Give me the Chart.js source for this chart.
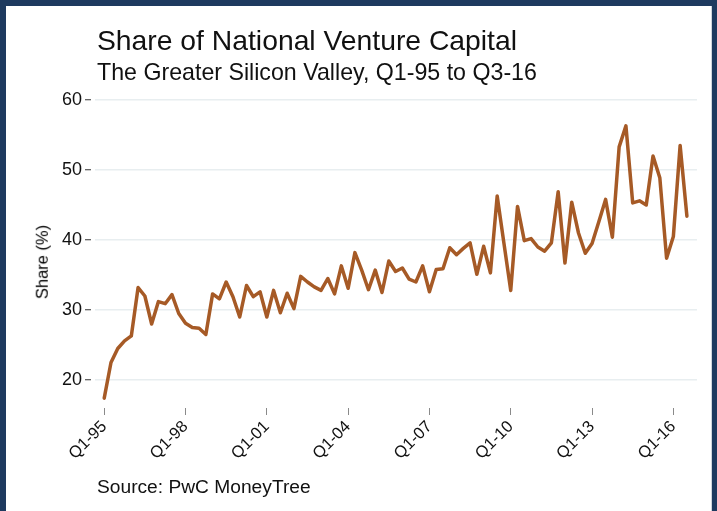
<!DOCTYPE html>
<html>
<head>
<meta charset="utf-8">
<title>Share of National Venture Capital</title>
<script src="https://cdn.jsdelivr.net/npm/chart.js@4.4.1/dist/chart.umd.min.js"></script>
<style>
  html, body { margin: 0; padding: 0; background: #fff; }
  body { width: 717px; height: 511px; position: relative; overflow: hidden;
         font-family: 'Liberation Sans', Arial, Helvetica, sans-serif; color: #111; }
  .frame { position: absolute; left: 0; top: 0; width: 717px; height: 530px; box-sizing: border-box;
           border-top: 6px solid #1e3a5f; border-left: 6px solid #1e3a5f; border-right: 5px solid #1e3a5f; }
  .frame-inner { position: absolute; right: 5px; top: 6px; width: 1px; height: 520px; background: #cfd6dc; }
  #chart { position: absolute; left: 0; top: 0; }
  .title { position: absolute; left: 97px; top: 26px; font-size: 28.3px; line-height: 1; white-space: nowrap; }
  .subtitle { position: absolute; left: 97px; top: 61px; font-size: 23.2px; line-height: 1; white-space: nowrap; }
  .source { position: absolute; left: 97px; top: 477px; font-size: 19.2px; line-height: 1; white-space: nowrap; }
  .ytitle { position: absolute; left: 42px; top: 262px; font-size: 16.5px; line-height: 1; white-space: nowrap;
            color: #000; transform: translate(-50%, -50%) rotate(-90deg); }
</style>
</head>
<body>
<div class="frame"></div>
<div class="frame-inner"></div>
<canvas id="chart" width="717" height="511"></canvas>
<div class="title">Share of National Venture Capital</div>
<div class="subtitle">The Greater Silicon Valley, Q1-95 to Q3-16</div>
<div class="ytitle">Share (%)</div>
<div class="source">Source: PwC MoneyTree</div>

<script>
// quarterly share (%), Q1-95 .. Q3-16, one value per quarter
const shareValues = [
  17.4, 22.5, 24.5, 25.6, 26.3, 33.2, 32.0, 28.0, 31.2, 30.9, 32.2, 29.5,
  28.1, 27.5, 27.4, 26.5, 32.3, 31.6, 34.0, 31.9, 29.0, 33.5, 31.9, 32.6,
  29.0, 32.8, 29.6, 32.4, 30.2, 34.8, 34.0, 33.3, 32.8, 34.5, 32.3, 36.3,
  33.1, 38.2, 35.7, 32.9, 35.7, 32.5, 37.0, 35.5, 36.0, 34.4, 34.0, 36.3,
  32.6, 35.8, 35.9, 38.9, 37.9, 38.8, 39.6, 35.1, 39.1, 35.3, 46.3, 39.5,
  32.8, 44.8, 39.9, 40.2, 39.0, 38.4, 39.6, 46.9, 36.7, 45.4, 41.0, 38.1,
  39.5, 42.6, 45.8, 40.4, 53.3, 56.3, 45.3, 45.6, 45.0, 52.0, 48.9, 37.4,
  40.5, 53.5, 43.4
];

// x ticks: quarter index (0 = Q1-95) and their labels
const xTickPositions = [0, 12, 24, 36, 48, 60, 72, 84];
const xTickLabels = ['Q1-95', 'Q1-98', 'Q1-01', 'Q1-04', 'Q1-07', 'Q1-10', 'Q1-13', 'Q1-16'];
const yTicks = [20, 30, 40, 50, 60];

const FONT = "'Liberation Sans', Arial, Helvetica, sans-serif";
const LINE_COLOR = '#a65a26';

const points = shareValues.map((v, i) => ({ x: i, y: v }));

new Chart(document.getElementById('chart'), {
  type: 'line',
  data: {
    datasets: [{
      data: points,
      borderColor: LINE_COLOR,
      borderWidth: 3.5,
      borderJoinStyle: 'round',
      borderCapStyle: 'round',
      pointRadius: 0,
      tension: 0,
      fill: false
    }]
  },
  options: {
    responsive: false,
    animation: false,
    events: [],
    layout: { padding: { left: 33, right: 20, top: 100, bottom: 30 } },
    plugins: {
      legend: { display: false },
      tooltip: { enabled: false }
    },
    scales: {
      x: {
        type: 'linear',
        min: -1.36,
        max: 87.49,
        afterBuildTicks: (scale) => {
          scale.ticks = xTickPositions.map(v => ({ value: v }));
        },
        afterFit: (scale) => { scale.height = 73; },
        border: { display: false },
        grid: {
          drawOnChartArea: false,
          drawTicks: true,
          tickLength: 7,
          tickColor: '#8a8a8a',
          tickWidth: 1
        },
        ticks: {
          autoSkip: false,
          minRotation: 45,
          maxRotation: 45,
          padding: 2,
          color: '#111',
          font: { family: FONT, size: 16.5 },
          callback: (value) => {
            const idx = xTickPositions.indexOf(value);
            return idx >= 0 ? xTickLabels[idx] : '';
          }
        }
      },
      y: {
        min: 16.0,
        max: 60,
        afterBuildTicks: (scale) => {
          scale.ticks = yTicks.map(v => ({ value: v }));
        },
        afterFit: (scale) => { scale.width = 62; },
        border: { display: false },
        grid: {
          color: '#e8eef0',
          lineWidth: 1.5,
          drawTicks: true,
          tickLength: 10,
          tickColor: '#333',
          tickWidth: 1,
          tickBorderDash: [6, 4]
        },
        ticks: {
          padding: 3,
          color: '#111',
          font: { family: FONT, size: 18 }
        }
      }
    }
  }
});
</script>
</body>
</html>
